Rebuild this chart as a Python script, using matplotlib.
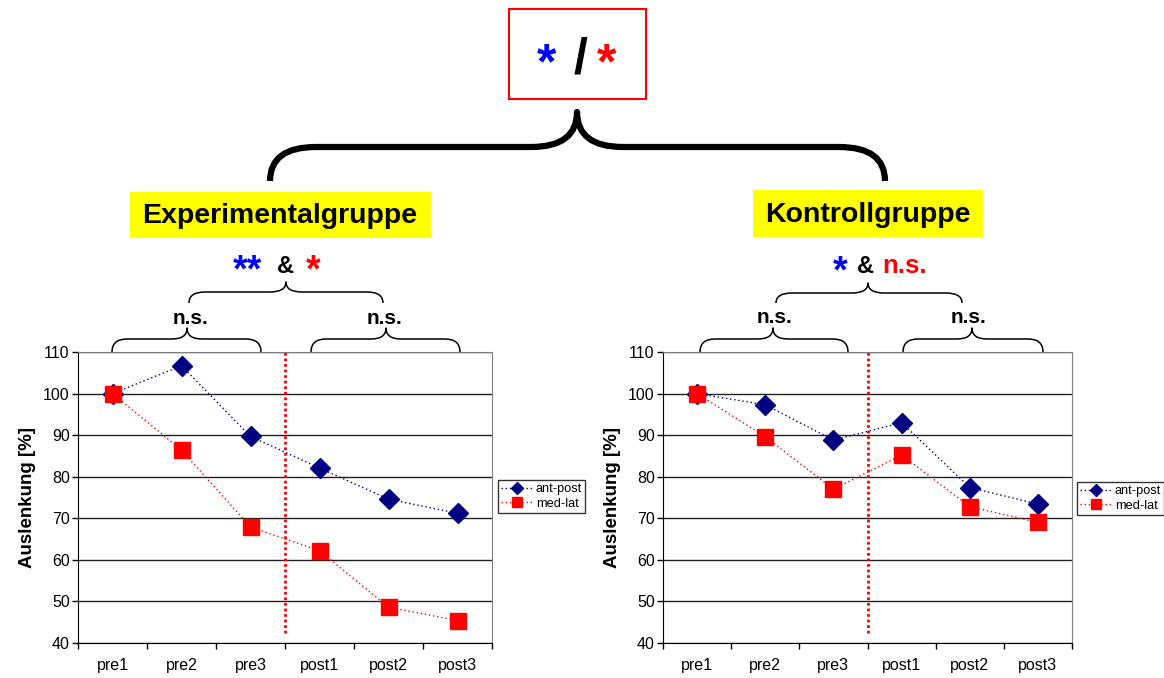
import numpy as np
import matplotlib
matplotlib.use('Agg')
import matplotlib.pyplot as plt
from matplotlib.path import Path
from matplotlib.patches import PathPatch, Rectangle

plt.rcParams['font.family'] = ['Liberation Sans', 'DejaVu Sans']

# data
phases = ['pre1', 'pre2', 'pre3', 'post1', 'post2', 'post3']
exp_ant_post = [100, 106.7, 89.7, 82.1, 74.6, 71.2]
exp_med_lat = [100, 86.4, 67.9, 62.2, 48.6, 45.4]
kon_ant_post = [100, 97.3, 88.8, 93.0, 77.4, 73.4]
kon_med_lat = [100, 89.6, 77.0, 85.2, 72.8, 69.0]
series_names = ['ant-post', 'med-lat']
group_names = ['Experimentalgruppe', 'Kontrollgruppe']

W, H = 1164, 678
fig = plt.figure(figsize=(W / 100, H / 100), dpi=100)

BLUE = '#000080'
RED = '#ff0000'


def px_rect(x0, y0, x1, y1):
    # pixel box (top-left origin) -> figure fraction rect
    return [x0 / W, 1 - y1 / H, (x1 - x0) / W, (y1 - y0) / H]


def draw_panel(rect, ant, med, leg_xy):
    ax = fig.add_axes(rect)
    x = np.arange(len(phases)) + 0.5
    ax.plot(x, ant, color=BLUE, ls=(0, (1, 2)), lw=1, marker='D', ms=10,
            mfc=BLUE, mec=BLUE, label=series_names[0], zorder=3)
    ax.plot(x, med, color=RED, ls=(0, (1, 2)), lw=1, marker='s', ms=11,
            mfc=RED, mec=RED, label=series_names[1], zorder=3)
    split = sum(p.startswith('pre') for p in phases)
    ax.axvline(split, ymin=(42.3 - 40) / 70, ymax=1, color=RED, lw=2,
               ls=(0, (1, 1)), zorder=2)

    ax.set_xlim(0, len(phases))
    ax.set_ylim(40, 110)
    ax.set_yticks(range(40, 111, 10))
    ax.set_xticks(range(len(phases) + 1))
    ax.set_xticklabels([])
    ax.set_xticks(x, minor=True)
    ax.set_xticklabels(phases, minor=True, fontsize=11.5)
    ax.tick_params(axis='x', which='minor', length=0, pad=11)
    ax.tick_params(axis='x', which='major', length=4, width=1, direction='out')
    ax.tick_params(axis='y', length=4, width=1, pad=2, labelsize=11.5)
    ax.set_axisbelow(True)
    ax.yaxis.grid(True, color='#222222', lw=1)
    for s in ['top', 'right']:
        ax.spines[s].set_color('#808080')
    for s in ['left', 'bottom']:
        ax.spines[s].set_color('black')
    ax.set_ylabel('Auslenkung [%]', fontsize=13.5, fontweight='bold', labelpad=5)

    leg = fig.legend(handles=ax.get_lines()[:2], loc='upper left',
                     bbox_to_anchor=(leg_xy[0] / W, 1 - leg_xy[1] / H),
                     fontsize=9.2, frameon=True, fancybox=False, edgecolor='black',
                     markerscale=0.6, handlelength=2.4, handletextpad=0.3,
                     borderpad=0.25, labelspacing=0.2, borderaxespad=0)
    leg.get_frame().set_linewidth(1)
    return ax


draw_panel(px_rect(78, 352, 492, 643), exp_ant_post, exp_med_lat, (498, 480))
draw_panel(px_rect(663, 352, 1072, 643), kon_ant_post, kon_med_lat, (1077, 482))

# overlay in pixel coordinates for the annotations
ov = fig.add_axes([0, 0, 1, 1])
ov.set_xlim(0, W)
ov.set_ylim(H, 0)
ov.axis('off')


def brace(x0, x1, xc, y_end, y_mid, y_tip, r, lw):
    verts = [(x0, y_end), (x0, y_mid), (x0 + r, y_mid),
             (xc - r, y_mid), (xc, y_mid), (xc, y_tip),
             (xc, y_mid), (xc + r, y_mid),
             (x1 - r, y_mid), (x1, y_mid), (x1, y_end)]
    codes = [Path.MOVETO, Path.CURVE3, Path.CURVE3,
             Path.LINETO, Path.CURVE3, Path.CURVE3,
             Path.CURVE3, Path.CURVE3,
             Path.LINETO, Path.CURVE3, Path.CURVE3]
    ov.add_patch(PathPatch(Path(verts, codes), fill=False, lw=lw,
                           edgecolor='black', capstyle='butt', joinstyle='round'))


# top: red box with overall result
ov.add_patch(Rectangle((509, 9), 137, 90, fill=False, edgecolor=RED, lw=1.5))
ov.text(547, 78, '*', color='blue', fontsize=36, fontweight='bold', ha='center', va='baseline')
ov.text(580, 73, '/', color='black', fontsize=36, fontweight='bold', ha='center', va='baseline')
ov.text(607, 78, '*', color=RED, fontsize=36, fontweight='bold', ha='center', va='baseline')

brace(270, 885, 577, 181, 147, 112, 46, 4.5)

# group labels
ov.add_patch(Rectangle((130, 192), 301, 46, color='#ffff00', lw=0))
ov.text(280, 216, group_names[0], fontsize=20.5, fontweight='bold', ha='center', va='center')
ov.add_patch(Rectangle((753, 190), 230, 47, color='#ffff00', lw=0))
ov.text(868, 215, group_names[1], fontsize=20.5, fontweight='bold', ha='center', va='center')

# left group significance
ov.text(247, 281, '**', color='blue', fontsize=27, fontweight='bold', ha='center', va='baseline')
ov.text(285, 273, '&', color='black', fontsize=17, fontweight='bold', ha='center', va='baseline')
ov.text(313, 281, '*', color=RED, fontsize=27, fontweight='bold', ha='center', va='baseline')
brace(189, 383, 286, 303, 292, 282, 16, 1.1)
ov.text(191, 324, 'n.s.', fontsize=15, fontweight='bold', ha='center', va='baseline')
ov.text(385, 324, 'n.s.', fontsize=15, fontweight='bold', ha='center', va='baseline')
brace(112, 261, 187, 352, 339, 328, 15, 1.1)
brace(311, 460, 386, 352, 339, 328, 15, 1.1)

# right group significance
ov.text(840, 282, '*', color='blue', fontsize=27, fontweight='bold', ha='center', va='baseline')
ov.text(865, 273, '&', color='black', fontsize=17, fontweight='bold', ha='center', va='baseline')
ov.text(905, 273, 'n.s.', color=RED, fontsize=18.5, fontweight='bold', ha='center', va='baseline')
brace(776, 962, 868, 303, 293, 283, 16, 1.1)
ov.text(774, 323, 'n.s.', fontsize=15, fontweight='bold', ha='center', va='baseline')
ov.text(968, 323, 'n.s.', fontsize=15, fontweight='bold', ha='center', va='baseline')
brace(700, 848, 773, 352, 339, 328, 15, 1.1)
brace(903, 1043, 972, 352, 339, 328, 15, 1.1)

fig.savefig('out.png', dpi=100)
